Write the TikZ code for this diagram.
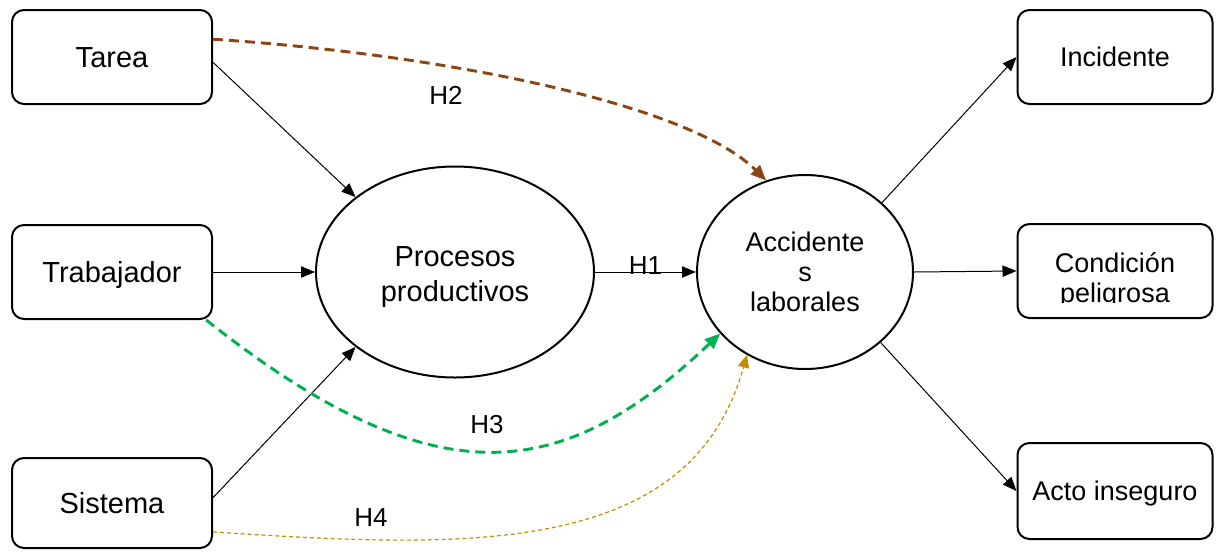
\documentclass[tikz,border=0pt]{standalone}
\usepackage{fontspec}
\setmainfont{Liberation Sans}
\usetikzlibrary{arrows.meta,shapes.geometric}
\definecolor{hbrown}{RGB}{139,69,19}
\definecolor{hgreen}{RGB}{0,176,80}
\definecolor{hgold}{RGB}{191,144,0}

\begin{document}
\begin{tikzpicture}[
  x=0.75pt, y=-0.75pt,
  box/.style={draw, line width=1.5pt, rounded corners=9pt, minimum width=150pt, minimum height=70.5pt, align=center, inner sep=0pt},
  oval/.style={draw, ellipse, line width=1.5pt, align=center, inner sep=0pt},
  big/.style={font=\fontsize{21.75pt}{26pt}\selectfont},
  small/.style={font=\fontsize{20.25pt}{22.5pt}\selectfont},
  bigone/.style={big, text height=19.6pt, text depth=4.6pt},
  smallone/.style={small, text height=18.2pt, text depth=4.3pt},
  hyp/.style={font=\fontsize{19.5pt}{22pt}\selectfont},
  link/.style={line width=0.75pt, -{Triangle[length=10.5pt,width=8.5pt]}},
  hline/.style={line width=2.2pt, dash pattern=on 7.5pt off 4.5pt, -{Triangle[length=11.5pt,width=9.5pt]}}
]
\useasboundingbox (0,0) rectangle (1222,551);

\node[box,bigone] (tarea) at (112,57) {Tarea};
\node[box,bigone] (trab) at (112,272) {Trabajador};
\node[box,bigone,minimum height=67.5pt] (sis) at (112,503) {Sistema};
\node[oval,minimum width=208.5pt,minimum height=158.25pt] (proc) at (455,272) {};
\node[big,align=center] (proctxt) at (455,277) {Procesos\\productivos};
\node[oval,small,minimum width=162pt,minimum height=145.5pt] (acc) at (805,272) {Accidente\\s\\laborales};
\node[box,smallone,minimum width=146.25pt] (inc) at (1115,57) {Incidente};
\node[box,minimum width=146.25pt] (cond) at (1115,271) {};
\node[box,smallone,minimum width=146.25pt,minimum height=72pt] (acto) at (1115,491) {Acto inseguro};
\begin{scope}
  \clip (1017,224) rectangle (1212,302);
  \node[small,align=center] (condtxt) at (1115,280) {Condición\\peligrosa};
\end{scope}

\draw[link] (tarea.-3) -- (proc.143);
\draw[link] (trab.east) -- (proc.west);
\draw[link] (sis.3) -- (proc.217);
\draw[link] (proc.east) -- node[hyp,yshift=4.5pt] (h1) {H1} (acc.west);
\draw[link] (acc.42) -- (inc.west);
\draw[link] (acc.east) -- (cond.west);
\draw[link] (acc.-43) -- (acto.west);

\draw[hline,hbrown] (tarea.10) .. controls (450,55) and (690,105) .. (acc.113);
\node[hyp] (h2) at (446,95) {H2};
\draw[hline,hgreen] (trab.-27) .. controls (440,505) and (565,480) .. (acc.216);
\node[hyp] (h3) at (487,425) {H3};
\draw[hgold, line width=0.9pt, dash pattern=on 3pt off 2.2pt, -{Triangle[length=9.5pt,width=8.5pt]}] (sis.-16) .. controls (462,548) and (690,560) .. (acc.235);
\node[hyp] (h4) at (371,518) {H4};
\end{tikzpicture}
\end{document}
